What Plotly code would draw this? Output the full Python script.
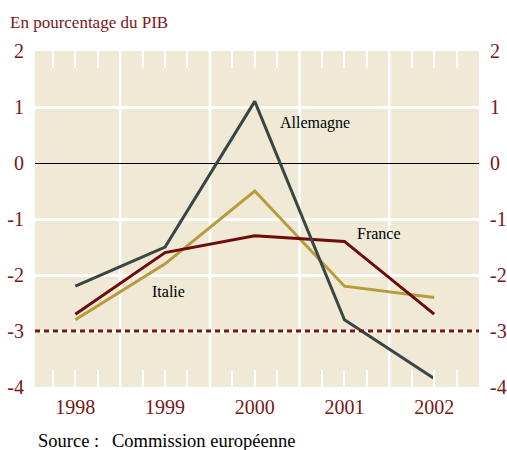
import plotly.graph_objects as go

years = [1998, 1999, 2000, 2001, 2002]
allemagne = [-2.2, -1.5, 1.1, -2.8, -3.85]
france = [-2.7, -1.6, -1.3, -1.4, -2.7]
italie = [-2.8, -1.8, -0.5, -2.2, -2.4]
y_ticks = [2, 1, 0, -1, -2, -3, -4]
threshold = -3
grid_x = [1998.5, 1999.5, 2000.5, 2001.5]

RED = "#7b1616"
FONT = "Liberation Serif"

fig = go.Figure()
fig.add_trace(go.Scatter(x=years, y=italie, mode="lines", line=dict(color="#b89b3d", width=3), name="Italie"))
fig.add_trace(go.Scatter(x=years, y=france, mode="lines", line=dict(color="#6e0b0b", width=3), name="France"))
fig.add_trace(go.Scatter(x=years, y=allemagne, mode="lines", line=dict(color="#3b4644", width=3), name="Allemagne"))
fig.add_trace(go.Scatter(x=[years[0]], y=[threshold], yaxis="y2", mode="markers",
                         marker=dict(opacity=0), hoverinfo="skip", showlegend=False))

shapes = []
for gx in grid_x:
    shapes.append(dict(type="line", xref="x", yref="paper", x0=gx, x1=gx, y0=0, y1=1,
                       line=dict(color="white", width=2.5), layer="below"))
shapes.append(dict(type="line", xref="paper", yref="y", x0=0, x1=1, y0=threshold, y1=threshold,
                   line=dict(color=RED, width=3, dash="5px,4px"), layer="above"))

fig.update_layout(
    width=507, height=450,
    margin=dict(l=35, r=28, t=51, b=63, autoexpand=False),
    paper_bgcolor="white", plot_bgcolor="#efe9d6",
    showlegend=False,
    font=dict(family=FONT, color=RED),
    shapes=shapes,
    xaxis=dict(range=[1997.55, 2002.5], tickvals=years, ticktext=[str(y) for y in years],
               showgrid=False, zeroline=False, showline=False, automargin=False,
               ticks="inside", ticklen=17, tickwidth=2, tickcolor="white", mirror="ticks",
               tickfont=dict(size=20, color=RED, family=FONT), ticklabelstandoff=6,
               minor=dict(tick0=1997.75, dtick=0.5, ticks="inside", ticklen=17, tickwidth=2,
                          tickcolor="white", showgrid=False)),
    yaxis=dict(range=[-4, 2], tickvals=y_ticks, ticktext=[str(v) for v in y_ticks],
               showgrid=True, gridcolor="white", gridwidth=2.5, automargin=False,
               zeroline=True, zerolinecolor="black", zerolinewidth=1,
               showline=False, ticks="", tickfont=dict(size=20, color=RED, family=FONT),
               ticklabelstandoff=10),
    yaxis2=dict(range=[-4, 2], overlaying="y", side="right", tickvals=y_ticks, automargin=False,
                ticktext=[str(v) for v in y_ticks], showgrid=False, zeroline=False,
                showline=False, ticks="", tickfont=dict(size=20, color=RED, family=FONT),
                ticklabelstandoff=10),
    annotations=[
        dict(text="En pourcentage du PIB", xref="paper", yref="paper", x=-27/444, y=1 + 29/336,
             xanchor="left", yanchor="middle", showarrow=False, font=dict(size=17, color=RED, family=FONT)),
        dict(text="Allemagne", x=2000.67, y=0.71, showarrow=False, font=dict(size=16, color="black", family=FONT)),
        dict(text="France", x=2001.38, y=-1.25, showarrow=False, font=dict(size=16, color="black", family=FONT)),
        dict(text="Italie", x=1999.04, y=-2.29, showarrow=False, font=dict(size=16, color="black", family=FONT)),
        dict(text="Source :", xref="paper", yref="paper", x=1/444, y=-54/336,
             xanchor="left", yanchor="middle", showarrow=False, font=dict(size=18.5, color="black", family=FONT)),
        dict(text="Commission européenne", xref="paper", yref="paper", x=75/444, y=-54/336,
             xanchor="left", yanchor="middle", showarrow=False, font=dict(size=18.5, color="black", family=FONT)),
    ],
)

fig.write_html("out.html", config={"displayModeBar": False},
               post_script="document.body.style.margin='0';document.body.style.padding='0';")
